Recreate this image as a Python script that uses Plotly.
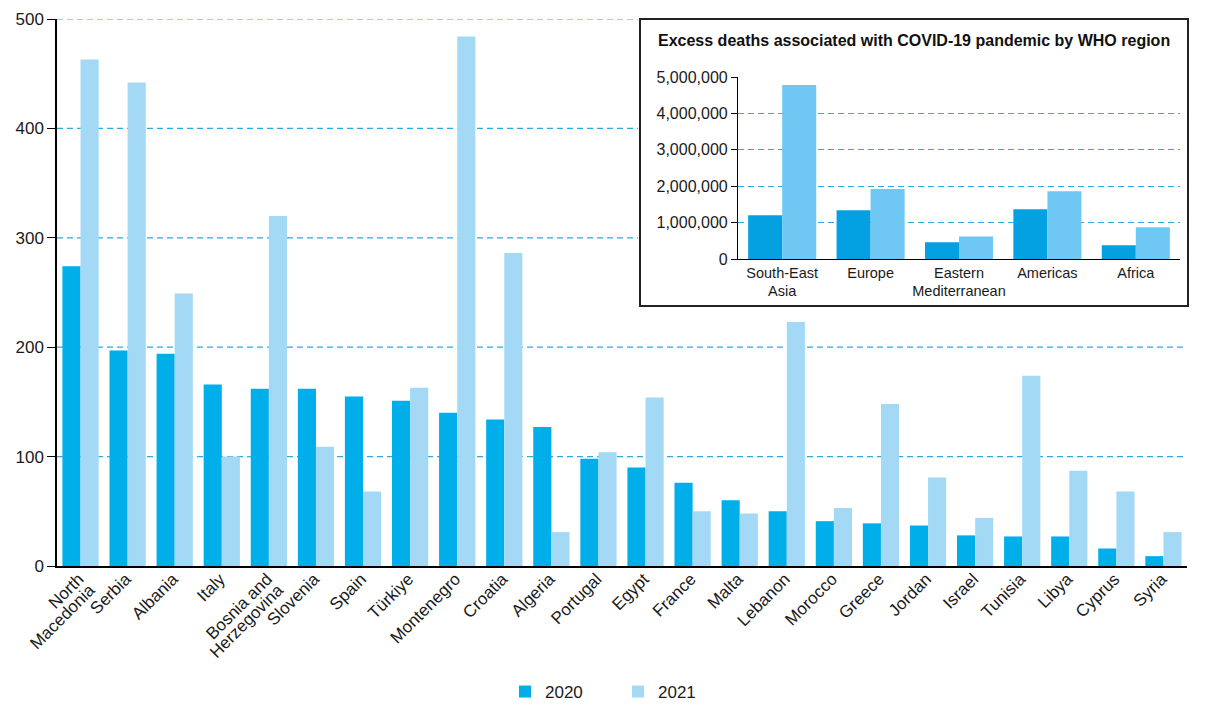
import plotly.graph_objects as go

countries = ["North Macedonia", "Serbia", "Albania", "Italy", "Bosnia and Herzegovina",
             "Slovenia", "Spain", "Türkiye", "Montenegro", "Croatia", "Algeria", "Portugal",
             "Egypt", "France", "Malta", "Lebanon", "Morocco", "Greece", "Jordan", "Israel",
             "Tunisia", "Libya", "Cyprus", "Syria"]
country_labels = ["North<br>Macedonia", "Serbia", "Albania", "Italy", "Bosnia and<br>Herzegovina",
                  "Slovenia", "Spain", "Türkiye", "Montenegro", "Croatia", "Algeria", "Portugal",
                  "Egypt", "France", "Malta", "Lebanon", "Morocco", "Greece", "Jordan", "Israel",
                  "Tunisia", "Libya", "Cyprus", "Syria"]
vals_2020 = [274, 197, 194, 166, 162, 162, 155, 151, 140, 134, 127, 98,
             90, 76, 60, 50, 41, 39, 37, 28, 27, 27, 16, 9]
vals_2021 = [463, 442, 249, 100, 320, 109, 68, 163, 484, 286, 31, 104,
             154, 50, 48, 223, 53, 148, 81, 44, 174, 87, 68, 31]

regions = ["South-East<br>Asia", "Europe", "Eastern<br>Mediterranean", "Americas", "Africa"]
reg_2020 = [1200000, 1340000, 460000, 1370000, 380000]
reg_2021 = [4780000, 1920000, 620000, 1860000, 870000]

main_y_ticks = [0, 100, 200, 300, 400, 500]
inset_y_ticks = [0, 1000000, 2000000, 3000000, 4000000, 5000000]

C2020 = "#00AEEA"
C2021 = "#A4D9F6"
I2020 = "#03A0E2"
I2021 = "#6FC8F4"
GRID = "#30A8E0"
FONT = "Liberation Sans"

fig = go.Figure()
fig.add_trace(go.Bar(x=countries, y=vals_2020, name="2020", marker_color=C2020,
                     marker_line_width=0, xaxis="x", yaxis="y"))
fig.add_trace(go.Bar(x=countries, y=vals_2021, name="2021", marker_color=C2021,
                     marker_line_width=0, xaxis="x", yaxis="y"))
fig.add_trace(go.Bar(x=regions, y=reg_2020, name="2020", marker_color=I2020,
                     marker_line_width=0, xaxis="x2", yaxis="y2", showlegend=False))
fig.add_trace(go.Bar(x=regions, y=reg_2021, name="2021", marker_color=I2021,
                     marker_line_width=0, xaxis="x2", yaxis="y2", showlegend=False))

W, H = 1219, 705
L, R, T, B = 57, 32, 19, 139
pw, ph = W - L - R, H - T - B
YMAX = 500

def px(x):
    return (x - L) / pw

def py(y):
    return (H - B - y) / ph

# inset box (pixel edges)
BOX_L, BOX_R, BOX_T, BOX_B = 640, 1188, 19, 306
box_bottom_value = YMAX * py(BOX_B)

# tick labels drawn larger than the nominal tick font to get tighter line spacing
SPAN = '<span style="font-size:17px">'
tick_text = [SPAN + t.replace("<br>", "</span><br>" + SPAN) + "</span>" for t in country_labels]

fig.update_layout(
    width=W, height=H,
    margin=dict(l=L, r=R, t=T, b=B, autoexpand=False),
    paper_bgcolor="white", plot_bgcolor="white",
    font=dict(family=FONT, color="#1a1a1a", size=15),
    barmode="group", bargap=0.23, bargroupgap=0,
    showlegend=True,
    legend=dict(orientation="h", x=px(618), xanchor="center", y=py(692), yanchor="middle",
                font=dict(size=17), itemwidth=30, entrywidth=68, entrywidthmode="pixels",
                traceorder="normal"),
    xaxis=dict(domain=[0, 1], anchor="y", showline=True, linecolor="black", linewidth=1.5,
               ticks="", tickangle=-45, tickfont=dict(size=12), showgrid=False,
               tickmode="array", tickvals=countries, ticktext=tick_text,
               automargin=False),
    yaxis=dict(domain=[0, 1], anchor="x", range=[0, YMAX], tickvals=main_y_ticks,
               showline=True, linecolor="black", linewidth=1.5, ticks="outside", ticklen=8,
               tickcolor="black", tickfont=dict(size=17), showgrid=False, zeroline=False,
               automargin=False),
    xaxis2=dict(domain=[px(738), px(1180)], anchor="y2", showline=True, linecolor="black",
                linewidth=1.2, ticks="", tickfont=dict(size=14.5), showgrid=False,
                automargin=False),
    yaxis2=dict(domain=[py(259), py(77)], anchor="x2", range=[0, 5000000],
                tickvals=inset_y_ticks, tickformat=",", showline=True, linecolor="black",
                linewidth=1.2, ticks="outside", ticklen=6, tickcolor="black",
                tickfont=dict(size=16), showgrid=True, gridcolor=GRID,
                griddash="6px,4px", gridwidth=1, zeroline=False, automargin=False),
)

# main horizontal gridlines (stop at the inset box where it covers them)
for v in main_y_ticks[1:]:
    x1 = px(BOX_L - 2) if v > box_bottom_value else 1
    fig.add_shape(type="line", xref="paper", yref="y", x0=0, x1=x1, y0=v, y1=v,
                  line=dict(color=GRID, width=1.2, dash="6px,4px"), layer="below")

# inset frame
fig.add_shape(type="rect", xref="paper", yref="paper",
              x0=px(BOX_L), x1=px(BOX_R), y0=py(BOX_B), y1=py(BOX_T),
              fillcolor="rgba(0,0,0,0)", line=dict(color="#222", width=2), layer="below")

fig.add_annotation(text="<b>Excess deaths associated with COVID-19 pandemic by WHO region</b>",
                   xref="paper", yref="paper", x=px(914), y=py(40), xanchor="center",
                   yanchor="middle", showarrow=False, font=dict(size=16, color="#111"))

fig.write_html("out.html", config={"displayModeBar": False},
               post_script="document.body.style.margin='0';")
